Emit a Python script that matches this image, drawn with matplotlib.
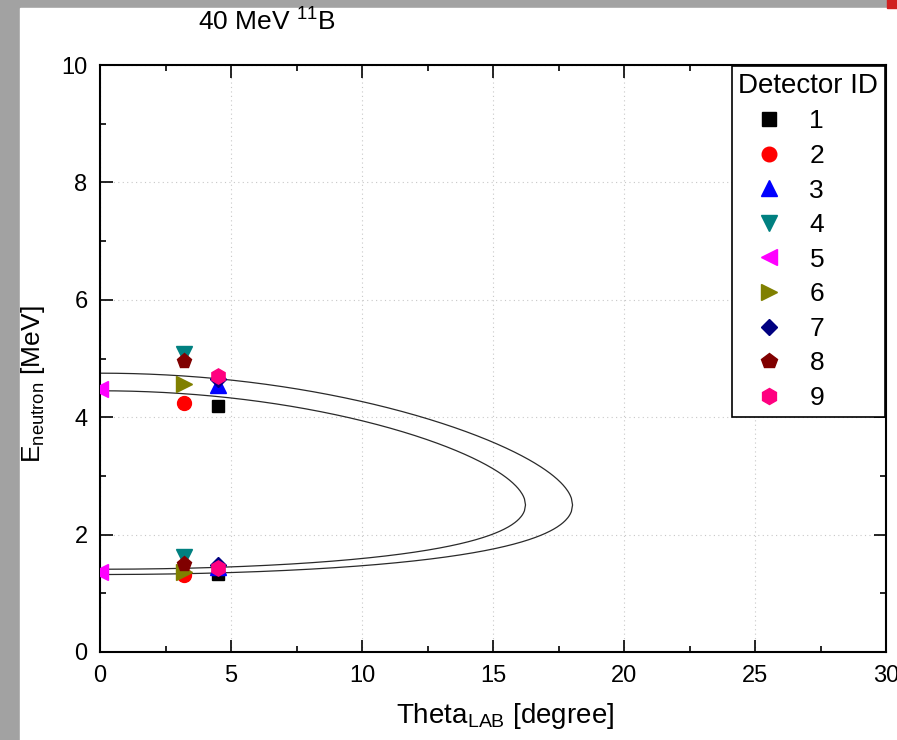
import numpy as np
import matplotlib
matplotlib.use("Agg")
import matplotlib.pyplot as plt
from matplotlib.patches import Rectangle

plt.rcParams['font.family'] = ['Liberation Sans', 'DejaVu Sans']
plt.rcParams['mathtext.default'] = 'regular'

# detector points: angle and the two neutron energies (upper / lower branch)
det_ids = ["1", "2", "3", "4", "5", "6", "7", "8", "9"]
det_theta = [4.5, 3.2, 4.5, 3.2, 0.0, 3.2, 4.5, 3.2, 4.5]
det_e_high = [4.19, 4.24, 4.55, 5.08, 4.48, 4.56, 4.65, 4.95, 4.70]
det_e_low = [1.33, 1.31, 1.45, 1.62, 1.37, 1.36, 1.48, 1.50, 1.43]

markers = ['s', 'o', '^', 'v', '<', '>', 'D', 'p', 'h']
colors = ['#000000', '#ff0000', '#0000ff', '#008080', '#ff00ff',
          '#808000', '#000080', '#800000', '#ff0080']
msizes = [9, 10, 11, 11, 11, 11, 8, 11, 11]

# kinematic curves: neutron energy at 0 deg for the fast / slow branch
curve_e0_fast = [4.75, 4.45]
curve_e0_slow = [1.32, 1.41]

fig = plt.figure(figsize=(8.97, 7.40), dpi=100)
fig.patch.set_facecolor('#a2a2a2')
fig.patches.append(Rectangle((20 / 897, 0), 1, 1 - 8 / 740,
                             transform=fig.transFigure, color='white', zorder=-10))
fig.patches.append(Rectangle((887 / 897, 1 - 8 / 740), 1, 1,
                             transform=fig.transFigure, color='#d02020', zorder=-10))

ax = fig.add_axes([100 / 897, 1 - 652 / 740, 786 / 897, 587 / 740])
ax.set_zorder(1)

for ef, es in zip(curve_e0_fast, curve_e0_slow):
    a = (np.sqrt(ef) + np.sqrt(es)) / 2
    r = (np.sqrt(ef) - np.sqrt(es)) / (np.sqrt(ef) + np.sqrt(es))
    tmax = np.arcsin(r)
    t = np.linspace(0, tmax, 400)
    root = np.sqrt(np.clip(r ** 2 - np.sin(t) ** 2, 0, None))
    up = (a * (np.cos(t) + root)) ** 2
    lo = (a * (np.cos(t) - root)) ** 2
    th = np.degrees(np.concatenate([t, t[::-1]]))
    ee = np.concatenate([up, lo[::-1]])
    ax.plot(th, ee, color='#2a2a2a', lw=0.9, zorder=2)

for i in range(len(det_ids)):
    ax.plot([det_theta[i], det_theta[i]], [det_e_high[i], det_e_low[i]],
            linestyle='none', marker=markers[i], color=colors[i],
            markersize=msizes[i], label=det_ids[i], zorder=3)

ax.set_xlim(0, 30)
ax.set_ylim(0, 10)
ax.set_xticks(np.arange(0, 31, 5))
ax.set_xticks(np.arange(0, 30.1, 2.5), minor=True)
ax.set_yticks(np.arange(0, 11, 2))
ax.set_yticks(np.arange(0, 10.1, 1), minor=True)
ax.tick_params(which='both', direction='in', top=True, right=True, width=1.2)
ax.tick_params(which='major', length=9, labelsize=17, pad=9)
ax.tick_params(which='minor', length=4.5)
for s in ax.spines.values():
    s.set_linewidth(1.5)
ax.grid(True, which='major', linestyle=(0, (1, 3)), color='#c8c8c8', lw=0.8)
ax.set_axisbelow(True)

leg = ax.legend(title='Detector ID', loc='upper right', fontsize=19,
                title_fontsize=20, frameon=True, fancybox=False,
                edgecolor='black', framealpha=1, borderaxespad=0.05,
                labelspacing=0.4, handletextpad=0.35, borderpad=0.25,
                handlelength=2.35, markerscale=1.05, alignment='left')
leg.get_frame().set_linewidth(1.2)

fig.text(267 / 897, 1 - 22 / 740, r'40 MeV $^{11}$B', fontsize=19,
         ha='center', va='center')
fig.text(505 / 897, 1 - 716 / 740, r'Theta$_{LAB}$ [degree]', fontsize=20,
         ha='center', va='center')
fig.text(33 / 897, 1 - 384 / 740, r'E$_{neutron}$ [MeV]', fontsize=19,
         ha='center', va='center', rotation=90)

fig.savefig('out.png', dpi=100, facecolor=fig.get_facecolor())
